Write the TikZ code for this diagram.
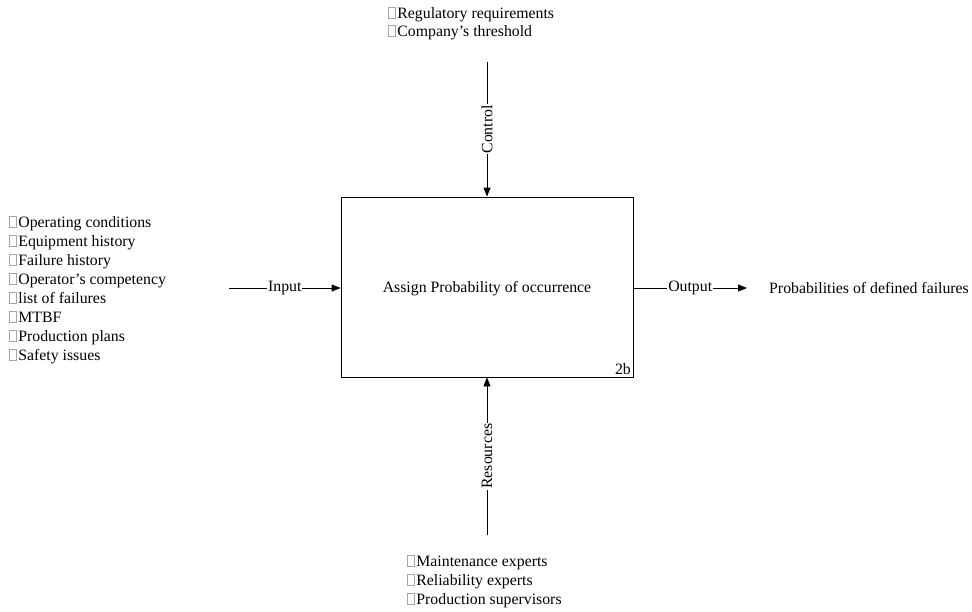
\documentclass[tikz,border=0pt]{standalone}
\usepackage{fontspec}
\setmainfont{Liberation Serif}
\usetikzlibrary{arrows.meta}
% small empty glyph box placed before each list entry
\newcommand{\gbox}{{\color{black!35}\setlength{\fboxsep}{0pt}\setlength{\fboxrule}{0.6pt}\fbox{\phantom{\rule{6.5pt}{10pt}}}}\hspace{1.5pt}}
\begin{document}
\begin{tikzpicture}[x=1pt,y=-1pt,
  every node/.style={font=\fontsize{15.8}{19}\selectfont, inner sep=0pt},
  flow/.style={draw=black, line width=0.8pt, -{Triangle[length=9pt,width=7pt]}},
  flowlabel/.style={fill=white, inner sep=1pt},
  listtext/.style={anchor=base west, align=left}]
\useasboundingbox (0,0) rectangle (972,611);

% activity box
\node[draw, line width=0.8pt, minimum width=292pt, minimum height=180pt] (act) at (487,287) {};
\node[anchor=base] (title) at (487,292) {Assign Probability of occurrence};
\node[anchor=base east] (num) at (631,374) {2b};

% end points of the connectors
\coordinate (ctop) at (487,62);
\coordinate (rbot) at (487,535);
\coordinate (inl) at (229,288);
\coordinate (outr) at (747,288);

% connectors
\draw[flow] (ctop) -- (act.north) node[flowlabel, midway, rotate=90] {Control};
\draw[flow] (rbot) -- (act.south) node[flowlabel, midway, rotate=90] {Resources};
\draw[flow] (inl) -- (inl -| act.west) node[flowlabel, midway] {Input};
\draw[flow] (outr -| act.east) -- (outr) node[flowlabel, midway] {Output};

% lists
\node[anchor=base west] (ctrltext) at (388,18) {\gbox Regulatory requirements};
\node[anchor=base west] (ctrltext2) at (388,36) {\gbox Company’s threshold};

\node[anchor=base west] (in1) at (9,227) {\gbox Operating conditions};
\node[anchor=base west] (in2) at (9,246) {\gbox Equipment history};
\node[anchor=base west] (in3) at (9,265) {\gbox Failure history};
\node[anchor=base west] (in4) at (9,284) {\gbox Operator’s competency};
\node[anchor=base west] (in5) at (9,303) {\gbox list of failures};
\node[anchor=base west] (in6) at (9,322) {\gbox MTBF};
\node[anchor=base west] (in7) at (9,341) {\gbox Production plans};
\node[anchor=base west] (in8) at (9,360) {\gbox Safety issues};

\node[anchor=base west] (res1) at (407,566) {\gbox Maintenance experts};
\node[anchor=base west] (res2) at (407,585) {\gbox Reliability experts};
\node[anchor=base west] (res3) at (407,604) {\gbox Production supervisors};

\node[anchor=west] (outtext) at (769,288) {Probabilities of defined failures};
\end{tikzpicture}
\end{document}
